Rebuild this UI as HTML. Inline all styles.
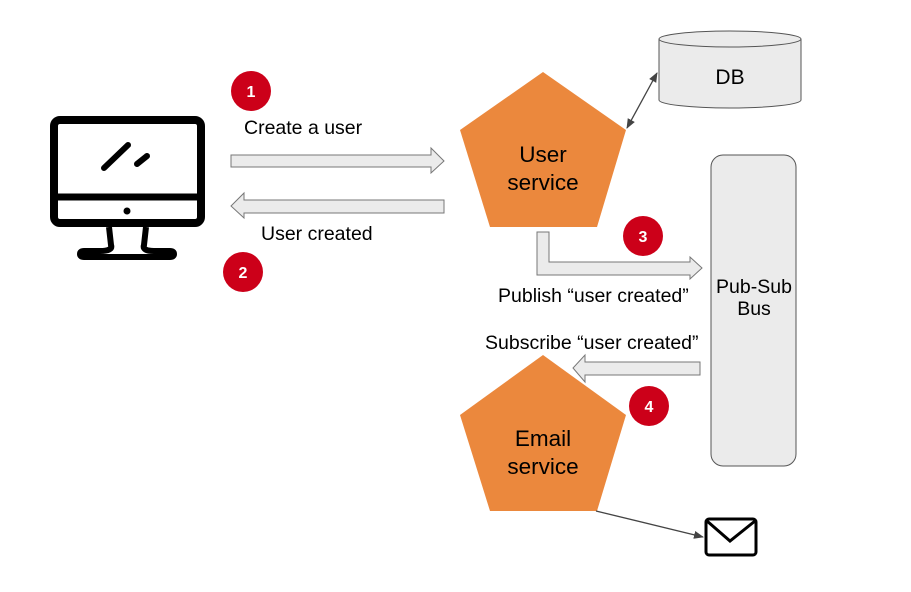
<!DOCTYPE html>
<html><head><style>body{margin:0;background:#fff}svg{display:block}</style></head><body>
<svg width="911" height="592" viewBox="0 0 911 592" xmlns="http://www.w3.org/2000/svg" font-family="Liberation Sans, sans-serif">
<defs>
<marker id="ah" markerWidth="10" markerHeight="10" refX="9" refY="5" orient="auto-start-reverse" markerUnits="userSpaceOnUse"><path d="M0,1 L10,5 L0,9 z" fill="#444"/></marker>
</defs>
<!-- monitor -->
<rect x="54" y="120" width="147" height="103" rx="6" fill="none" stroke="#000" stroke-width="8"/>
<line x1="54" y1="197" x2="201" y2="197" stroke="#000" stroke-width="7"/>
<circle cx="127" cy="211" r="3.5" fill="#000"/>
<path d="M109,227 L111,245 Q113,251 100,251 L84,251 Q80,251 80,254 Q80,257 84,257 L170,257 Q174,257 174,254 Q174,251 170,251 L154,251 Q142,251 144,245 L146,227" fill="none" stroke="#000" stroke-width="6"/>
<line x1="104" y1="168" x2="128" y2="145" stroke="#000" stroke-width="6" stroke-linecap="round"/>
<line x1="137" y1="164" x2="147" y2="156" stroke="#000" stroke-width="6" stroke-linecap="round"/>
<!-- arrows -->
<path d="M231,155 L431,155 L431,148 L444,161 L431,173 L431,167 L231,167 Z" fill="#ebebeb" stroke="#777" stroke-width="1"/>
<path d="M444,200 L244,200 L244,193 L231,206 L244,218 L244,213 L444,213 Z" fill="#ebebeb" stroke="#777" stroke-width="1"/>
<path d="M537,232 L549,232 L549,262 L690,262 L690,257 L702,268 L690,279 L690,275 L537,275 Z" fill="#ebebeb" stroke="#777" stroke-width="1"/>
<path d="M700,362 L585,362 L585,355 L573,368 L585,382 L585,375 L700,375 Z" fill="#ebebeb" stroke="#777" stroke-width="1"/>
<!-- pentagons -->
<polygon points="543,72 626,130 597,227 490,227 460,130" fill="#eb883d"/>
<polygon points="543,355 626,415 597,511 490,511 460,415" fill="#eb883d"/>
<text x="543" y="162" font-size="22.5" text-anchor="middle">User</text>
<text x="543" y="190" font-size="22.5" text-anchor="middle">service</text>
<text x="543" y="446" font-size="22.5" text-anchor="middle">Email</text>
<text x="543" y="474" font-size="22.5" text-anchor="middle">service</text>
<!-- DB -->
<path d="M659,39 L659,100 A71,8 0 0 0 801,100 L801,39" fill="#ebebeb" stroke="#555" stroke-width="1"/>
<ellipse cx="730" cy="39" rx="71" ry="8" fill="#ebebeb" stroke="#555" stroke-width="1"/>
<text x="730" y="84" font-size="21" text-anchor="middle">DB</text>
<line x1="657" y1="73" x2="627" y2="128" stroke="#444" stroke-width="1.3" marker-start="url(#ah)" marker-end="url(#ah)"/>
<!-- bus -->
<rect x="711" y="155" width="85" height="311" rx="12" fill="#ebebeb" stroke="#555" stroke-width="1"/>
<text x="754" y="293" font-size="19.5" text-anchor="middle">Pub-Sub</text>
<text x="754" y="315" font-size="19.5" text-anchor="middle">Bus</text>
<!-- email -->
<line x1="596" y1="511" x2="703" y2="537" stroke="#444" stroke-width="1.3" marker-end="url(#ah)"/>
<rect x="706" y="519" width="50" height="36" rx="3" fill="#fff" stroke="#000" stroke-width="3"/>
<polyline points="707,521 730,541 755,521" fill="none" stroke="#000" stroke-width="3"/>
<!-- labels -->
<text x="244" y="134" font-size="19.5">Create a user</text>
<text x="261" y="240" font-size="19.5">User created</text>
<text x="498" y="302" font-size="19.5">Publish “user created”</text>
<text x="485" y="349" font-size="19.5">Subscribe “user created”</text>
<!-- badges -->
<g font-size="16" font-weight="bold" fill="#fff" text-anchor="middle">
<circle cx="251" cy="91" r="20" fill="#cc0019"/><text x="251" y="97">1</text>
<circle cx="243" cy="272" r="20" fill="#cc0019"/><text x="243" y="278">2</text>
<circle cx="643" cy="236" r="20" fill="#cc0019"/><text x="643" y="242">3</text>
<circle cx="649" cy="406" r="20" fill="#cc0019"/><text x="649" y="412">4</text>
</g>
</svg>
</body></html>
